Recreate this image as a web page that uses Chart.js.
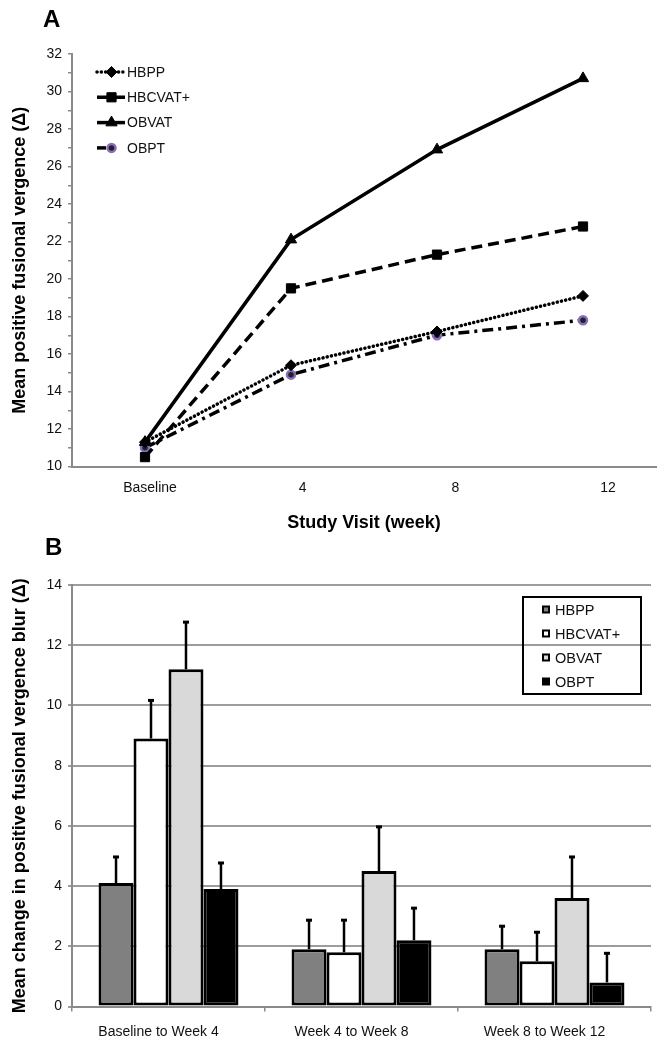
<!DOCTYPE html>
<html>
<head>
<meta charset="utf-8">
<script src="https://cdn.jsdelivr.net/npm/chart.js"></script>
<style>
html,body{margin:0;padding:0;background:#fff;}
#wrap{position:relative;width:671px;height:1050px;overflow:hidden;}
canvas{position:absolute;left:0;}
#cA{top:0;}
#cB{top:535px;}
.lbl{position:absolute;font:bold 24px "Liberation Sans",Arial,sans-serif;line-height:24px;color:#000;}
</style>
</head>
<body>
<div id="wrap">
<canvas id="cA" width="671" height="535"></canvas>
<canvas id="cB" width="671" height="515"></canvas>
<div class="lbl" style="left:43px;top:7px;">A</div>
<div class="lbl" style="left:45px;top:535px;">B</div>
</div>
<script>
// ---------- Panel A data ----------
const visits = ['Baseline', '4', '8', '12'];
const groups = ['HBPP', 'HBCVAT+', 'OBVAT', 'OBPT'];
const hbppA   = [11.3, 15.4, 17.2, 19.1];
const hbcvatA = [10.5, 19.5, 21.3, 22.8];
const obvatA  = [11.3, 22.1, 26.9, 30.7];
const obptA   = [11.0, 14.9, 17.0, 17.8];
const yMinA = 10, yMaxA = 32;

// ---------- Panel B data ----------
const periods = ['Baseline to Week 4', 'Week 4 to Week 8', 'Week 8 to Week 12'];
const hbppB   = [4.1, 1.9, 1.9];
const hbcvatB = [8.9, 1.8, 1.5];
const obvatB  = [11.2, 4.5, 3.6];
const obptB   = [3.9, 2.2, 0.8];
const hbppErr   = [0.9, 1.0, 0.8];
const hbcvatErr = [1.3, 1.1, 1.0];
const obvatErr  = [1.6, 1.5, 1.4];
const obptErr   = [0.9, 1.1, 1.0];
const yMinB = 0, yMaxB = 14;

Chart.defaults.font.family = '"Liberation Sans", Arial, sans-serif';
Chart.defaults.font.size = 14;
Chart.defaults.color = '#111';
Chart.defaults.animation = false;

const AXIS = '#8a8a8a';
const GRID = '#9c9c9c';

function drawMarker(ctx, style, x, y, r, fill, stroke, bw) {
  ctx.save();
  ctx.fillStyle = fill; ctx.strokeStyle = stroke; ctx.lineWidth = bw;
  ctx.setLineDash([]);
  ctx.beginPath();
  if (style === 'circle') ctx.arc(x, y, r, 0, 2 * Math.PI);
  else if (style === 'rect') { const s = r * Math.SQRT1_2; ctx.rect(x - s, y - s, 2 * s, 2 * s); }
  else if (style === 'rectRot') { ctx.moveTo(x - r, y); ctx.lineTo(x, y - r); ctx.lineTo(x + r, y); ctx.lineTo(x, y + r); ctx.closePath(); }
  else if (style === 'triangle') {
    ctx.moveTo(x, y - r);
    ctx.lineTo(x + r * Math.sin(2 * Math.PI / 3), y - r * Math.cos(2 * Math.PI / 3));
    ctx.lineTo(x + r * Math.sin(4 * Math.PI / 3), y - r * Math.cos(4 * Math.PI / 3));
    ctx.closePath();
  }
  ctx.fill();
  if (bw) ctx.stroke();
  ctx.restore();
}

const legendA = {
  id: 'legendA',
  afterDraw(chart) {
    const ctx = chart.ctx;
    chart.data.datasets.forEach((ds, i) => {
      const y = 72 + 25.3 * i;
      ctx.save();
      ctx.strokeStyle = ds.borderColor;
      ctx.lineWidth = ds.borderWidth;
      ctx.lineCap = ds.borderCapStyle || 'butt';
      ctx.setLineDash(ds.borderDash || []);
      ctx.beginPath();
      ctx.moveTo(97, y);
      ctx.lineTo(ds.label === 'OBPT' ? 106 : 125, y);
      ctx.stroke();
      ctx.restore();
      drawMarker(ctx, ds.pointStyle, 111.5, y, ds.pointRadius, ds.pointBackgroundColor, ds.pointBorderColor, ds.pointBorderWidth);
      ctx.save();
      ctx.fillStyle = '#111';
      ctx.font = '14px "Liberation Sans", Arial, sans-serif';
      ctx.textBaseline = 'middle';
      ctx.fillText(ds.label, 127, y + 1);
      ctx.restore();
    });
  }
};

new Chart(document.getElementById('cA'), {
  type: 'line',
  data: {
    labels: visits,
    datasets: [
      { label: groups[0], data: hbppA, borderColor: '#000', borderWidth: 3.5, borderDash: [0.1, 4.2], borderCapStyle: 'round',
        pointStyle: 'rectRot', pointRadius: 5.5, pointBackgroundColor: '#000', pointBorderColor: '#000', pointBorderWidth: 1, tension: 0 },
      { label: groups[1], data: hbcvatA, borderColor: '#000', borderWidth: 3.5, borderDash: [11, 6],
        pointStyle: 'rect', pointRadius: 6.5, pointBackgroundColor: '#000', pointBorderColor: '#000', pointBorderWidth: 1, tension: 0 },
      { label: groups[2], data: obvatA, borderColor: '#000', borderWidth: 3.5, borderDash: [],
        pointStyle: 'triangle', pointRadius: 6.5, pointBackgroundColor: '#000', pointBorderColor: '#000', pointBorderWidth: 1, tension: 0 },
      { label: groups[3], data: obptA, borderColor: '#000', borderWidth: 3.5, borderDash: [11, 5, 3, 5],
        pointStyle: 'circle', pointRadius: 4, pointBackgroundColor: '#222', pointBorderColor: '#8a6cbd', pointBorderWidth: 2.5, tension: 0 }
    ]
  },
  options: {
    responsive: false,
    devicePixelRatio: 1,
    layout: { padding: { top: 54, right: 15, left: 0, bottom: 0 } },
    plugins: { legend: { display: false }, tooltip: { enabled: false } },
    scales: {
      x: { type: 'category', display: false, offset: true },
      xl: {
        type: 'linear', position: 'bottom', min: -0.511, max: 3.314,
        afterBuildTicks: s => { s.ticks = visits.map((_, i) => ({ value: i })); },
        afterFit: s => { s.height = 68.5; },
        ticks: { callback: v => visits[v], padding: 13, maxRotation: 0, autoSkip: false, color: '#111', font: { size: 14 } },
        grid: { display: true, drawOnChartArea: false, drawTicks: false, color: AXIS },
        border: { display: true, color: AXIS, width: 2 },
        title: { display: true, text: 'Study Visit (week)', color: '#000', font: { size: 18, weight: 'bold' }, padding: { top: 0, bottom: 1.4 } }
      },
      y: {
        min: yMinA, max: yMaxA,
        afterFit: s => { s.width = 72; },
        ticks: { stepSize: 1, autoSkip: false, padding: 6, color: '#111', font: { size: 14 },
                 callback: v => (v % 2 === 0 ? v : '') },
        grid: { display: true, drawOnChartArea: false, drawTicks: true, tickLength: 4, color: AXIS, lineWidth: 1.5 },
        border: { display: true, color: AXIS, width: 2 },
        title: { display: true, text: 'Mean positive fusional vergence (\u0394)', color: '#000', font: { size: 18, weight: 'bold' }, padding: { top: 8.8, bottom: 0 } }
      }
    }
  },
  plugins: [legendA]
});

// ---------- Panel B ----------
const barColors = ['#808080', '#ffffff', '#d9d9d9', '#000000'];

const errorBars = {
  id: 'errorBars',
  afterDatasetsDraw(chart) {
    const ctx = chart.ctx, ys = chart.scales.y;
    chart.data.datasets.forEach((ds, i) => {
      const meta = chart.getDatasetMeta(i);
      meta.data.forEach((bar, j) => {
        const top = ys.getPixelForValue(ds.data[j] + ds.errPlus[j]);
        ctx.save();
        ctx.strokeStyle = '#000';
        ctx.lineWidth = 2.5;
        ctx.beginPath();
        ctx.moveTo(bar.x, bar.y);
        ctx.lineTo(bar.x, top);
        ctx.stroke();
        ctx.fillStyle = '#000';
        ctx.fillRect(bar.x - 3, top - 0.5, 6, 3);
        ctx.restore();
      });
    });
  }
};

const legendB = {
  id: 'legendB',
  afterDraw(chart) {
    const ctx = chart.ctx;
    ctx.save();
    ctx.strokeStyle = '#000';
    ctx.lineWidth = 2;
    ctx.strokeRect(523, 62, 118, 97);
    chart.data.datasets.forEach((ds, i) => {
      const y = 75 + 24 * i;
      ctx.fillStyle = '#000';
      ctx.fillRect(542, y - 4.5, 8, 8);
      if (ds.backgroundColor !== '#000000') {
        ctx.fillStyle = ds.backgroundColor;
        ctx.fillRect(544, y - 2.5, 4, 4);
      }
      ctx.fillStyle = '#111';
      ctx.font = '14.5px "Liberation Sans", Arial, sans-serif';
      ctx.textBaseline = 'middle';
      ctx.fillText(ds.label, 555, y + 1);
    });
    ctx.restore();
  }
};

new Chart(document.getElementById('cB'), {
  type: 'bar',
  data: {
    labels: periods,
    datasets: [
      { label: groups[0], data: hbppB,   errPlus: hbppErr,   backgroundColor: barColors[0] },
      { label: groups[1], data: hbcvatB, errPlus: hbcvatErr, backgroundColor: barColors[1] },
      { label: groups[2], data: obvatB,  errPlus: obvatErr,  backgroundColor: barColors[2] },
      { label: groups[3], data: obptB,   errPlus: obptErr,   backgroundColor: barColors[3] }
    ]
  },
  options: {
    responsive: false,
    devicePixelRatio: 1,
    layout: { padding: { top: 50, right: 20, left: 0, bottom: 0 } },
    datasets: { bar: { borderColor: '#000', borderWidth: 3, borderSkipped: false, categoryPercentage: 0.725, barPercentage: 1 } },
    plugins: { legend: { display: false }, tooltip: { enabled: false } },
    scales: {
      x: {
        afterFit: s => { s.height = 43.5; },
        ticks: { padding: 12, labelOffset: -10, maxRotation: 0, autoSkip: false, color: '#111', font: { size: 14 } },
        grid: { display: true, offset: true, drawOnChartArea: false, drawTicks: true, tickLength: 5, color: AXIS, lineWidth: 1.5 },
        border: { display: true, color: AXIS, width: 2 }
      },
      y: {
        min: yMinB, max: yMaxB,
        afterFit: s => { s.width = 72; },
        ticks: { stepSize: 2, autoSkip: false, padding: 6, color: '#111', font: { size: 14 } },
        grid: { display: true, drawOnChartArea: true, drawTicks: true, tickLength: 4, color: GRID, lineWidth: 2 },
        border: { display: true, color: AXIS, width: 2 },
        title: { display: true, text: 'Mean change in positive fusional vergence blur (\u0394)', color: '#000', font: { size: 18, weight: 'bold' }, padding: { top: 8.8, bottom: 0 } }
      }
    }
  },
  plugins: [errorBars, legendB]
});
</script>
</body>
</html>
